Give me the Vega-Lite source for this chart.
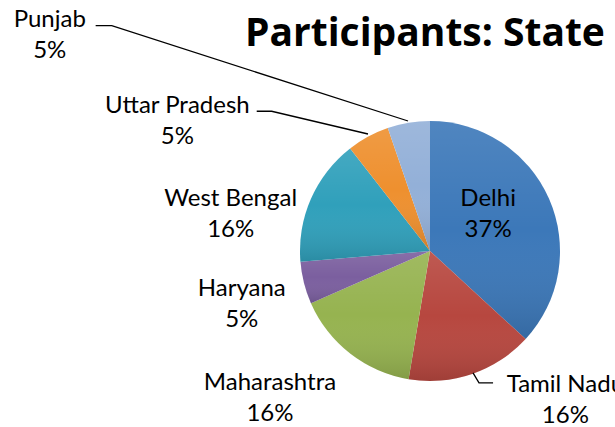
{
  "$schema": "https://vega.github.io/schema/vega-lite/v6.json",
  "width": 370,
  "height": 346,
  "autosize": {"type": "none"},
  "padding": {"left": 245, "top": 78, "right": 0, "bottom": 3},
  "background": "white",
  "view": {"stroke": null},
  "title": {
    "text": "Participants: State",
    "anchor": "start",
    "frame": "group",
    "font": "Open Sans",
    "fontSize": 39,
    "fontWeight": "bold",
    "color": "black",
    "baseline": "alphabetic",
    "offset": -77
  },
  "datasets": {
    "states": [
      {"state": "Delhi", "count": 21, "rank": 1},
      {"state": "Tamil Nadu", "count": 9, "rank": 2},
      {"state": "Maharashtra", "count": 9, "rank": 3},
      {"state": "Haryana", "count": 3, "rank": 4},
      {"state": "West Bengal", "count": 9, "rank": 5},
      {"state": "Uttar Pradesh", "count": 3, "rank": 6},
      {"state": "Punjab", "count": 3, "rank": 7}
    ],
    "leaders": [
      {"seg": "Punjab", "i": 1, "x": -2.572, "y": 1.733},
      {"seg": "Punjab", "i": 2, "x": -2.448, "y": 1.733},
      {"seg": "Punjab", "i": 3, "x": -0.169, "y": 1.0},
      {"seg": "Uttar Pradesh", "i": 1, "x": -1.333, "y": 1.075},
      {"seg": "Uttar Pradesh", "i": 2, "x": -1.218, "y": 1.075},
      {"seg": "Uttar Pradesh", "i": 3, "x": -0.477, "y": 0.9},
      {"seg": "Tamil Nadu", "i": 1, "x": 0.331, "y": -0.938},
      {"seg": "Tamil Nadu", "i": 2, "x": 0.377, "y": -1.015},
      {"seg": "Tamil Nadu", "i": 3, "x": 0.485, "y": -1.015}
    ]
  },
  "layer": [
    {
      "data": {"name": "states"},
      "transform": [
        {"joinaggregate": [{"op": "sum", "field": "count", "as": "total"}]},
        {"stack": "count", "groupby": [], "sort": [{"field": "rank", "order": "ascending"}], "as": ["t0", "t1"]},
        {"calculate": "(datum.t0 + datum.t1) / 2", "as": "tmid"},
        {"calculate": "[datum.state, format(datum.count / datum.total, '.0%')]", "as": "label"}
      ],
      "layer": [
        {
          "mark": {"type": "arc", "outerRadius": 130, "stroke": null},
          "encoding": {
            "theta": {"field": "t0", "type": "quantitative", "scale": {"domain": [0, 57]}},
            "theta2": {"field": "t1"},
            "color": {
              "field": "state",
              "type": "nominal",
              "legend": null,
              "scale": {
                "domain": ["Delhi", "Tamil Nadu", "Maharashtra", "Haryana", "West Bengal", "Uttar Pradesh", "Punjab"],
                "range": ["#3C78B9", "#B7473F", "#96B350", "#7B5F9F", "#30A0BB", "#EE902F", "#93B0D8"]
              }
            }
          }
        },
        {
          "mark": {
            "type": "arc",
            "outerRadius": 130,
            "stroke": null,
            "color": {
              "gradient": "linear",
              "x1": 0, "y1": 0, "x2": 0, "y2": 1,
              "stops": [
                {"offset": 0, "color": "rgba(255,255,255,0.10)"},
                {"offset": 0.5, "color": "rgba(255,255,255,0)"},
                {"offset": 1, "color": "rgba(0,0,0,0.13)"}
              ]
            }
          },
          "encoding": {
            "theta": {"field": "t0", "type": "quantitative"},
            "theta2": {"field": "t1"}
          }
        },
        {
          "transform": [{"filter": "datum.state == 'Delhi'"}],
          "mark": {"type": "text", "radius": 70, "thetaOffset": -0.178, "dy": -13, "font": "Lato", "fontSize": 24, "lineHeight": 31, "color": "black", "align": "center", "baseline": "middle"},
          "encoding": {"theta": {"field": "tmid", "type": "quantitative"}, "text": {"field": "label"}}
        },
        {
          "transform": [{"filter": "datum.state == 'Tamil Nadu'"}],
          "mark": {"type": "text", "radius": 197, "thetaOffset": -0.427, "dy": -9, "font": "Lato", "fontSize": 24, "lineHeight": 31, "color": "black", "align": "center", "baseline": "middle"},
          "encoding": {"theta": {"field": "tmid", "type": "quantitative"}, "text": {"field": "label"}}
        },
        {
          "transform": [{"filter": "datum.state == 'Maharashtra'"}],
          "mark": {"type": "text", "radius": 216, "thetaOffset": 0.173, "dy": -13, "font": "Lato", "fontSize": 24, "lineHeight": 31, "color": "black", "align": "center", "baseline": "middle"},
          "encoding": {"theta": {"field": "tmid", "type": "quantitative"}, "text": {"field": "label"}}
        },
        {
          "transform": [{"filter": "datum.state == 'Haryana'"}],
          "mark": {"type": "text", "radius": 195, "thetaOffset": -0.016, "dy": -13, "font": "Lato", "fontSize": 24, "lineHeight": 31, "color": "black", "align": "center", "baseline": "middle"},
          "encoding": {"theta": {"field": "tmid", "type": "quantitative"}, "text": {"field": "label"}}
        },
        {
          "transform": [{"filter": "datum.state == 'West Bengal'"}],
          "mark": {"type": "text", "radius": 203, "thetaOffset": -0.223, "dy": -14, "font": "Lato", "fontSize": 24, "lineHeight": 31, "color": "black", "align": "center", "baseline": "middle"},
          "encoding": {"theta": {"field": "tmid", "type": "quantitative"}, "text": {"field": "label"}}
        },
        {
          "transform": [{"filter": "datum.state == 'Uttar Pradesh'"}],
          "mark": {"type": "text", "radius": 284, "thetaOffset": -0.6, "dy": -15, "font": "Lato", "fontSize": 24, "lineHeight": 31, "color": "black", "align": "center", "baseline": "middle"},
          "encoding": {"theta": {"field": "tmid", "type": "quantitative"}, "text": {"field": "label"}}
        },
        {
          "transform": [{"filter": "datum.state == 'Punjab'"}],
          "mark": {"type": "text", "radius": 437, "thetaOffset": -0.89, "dy": -16, "font": "Lato", "fontSize": 24, "lineHeight": 31, "color": "black", "align": "center", "baseline": "middle"},
          "encoding": {"theta": {"field": "tmid", "type": "quantitative"}, "text": {"field": "label"}}
        }
      ]
    },
    {
      "data": {"name": "leaders"},
      "mark": {"type": "line", "color": "black", "strokeWidth": 1.3},
      "encoding": {
        "x": {"field": "x", "type": "quantitative", "axis": null, "scale": {"domain": [-1.4231, 1.4231], "nice": false, "zero": false}},
        "y": {"field": "y", "type": "quantitative", "axis": null, "scale": {"domain": [-1.3308, 1.3308], "nice": false, "zero": false}},
        "detail": {"field": "seg", "type": "nominal"},
        "order": {"field": "i", "type": "quantitative"}
      }
    }
  ]
}
